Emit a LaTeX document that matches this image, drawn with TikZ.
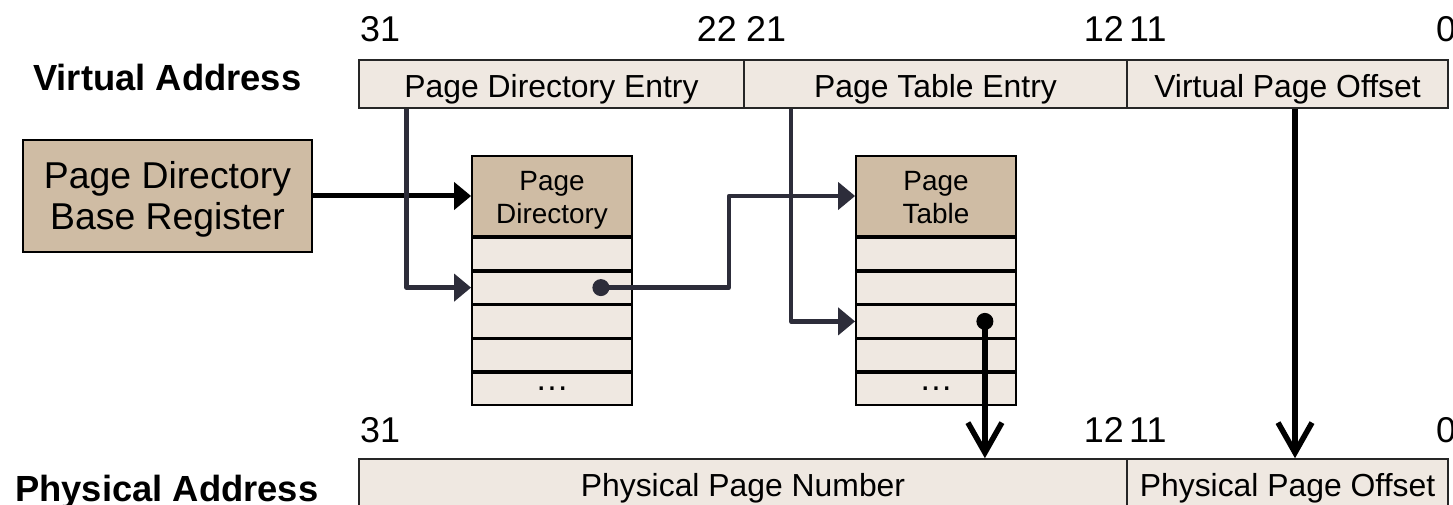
\documentclass[tikz,border=0pt]{standalone}
\usepackage{fontspec}
\setmainfont{Liberation Sans}
\usetikzlibrary{arrows.meta,calc}
\definecolor{fieldfill}{RGB}{239,232,225}
\definecolor{headfill}{RGB}{207,188,164}
\definecolor{linkgray}{RGB}{45,45,58}
\tikzset{
  field/.style={draw=black!85, line width=1.6bp, fill=fieldfill, minimum height=48bp,
    inner sep=0pt, text height=27bp, text depth=0bp, font=\fontsize{32}{36}\selectfont},
  tablehead/.style={draw=black, line width=1.8bp, fill=headfill, minimum width=160bp,
    minimum height=80bp, inner sep=0pt, align=center, font=\fontsize{28}{33}\selectfont},
  tablerow/.style={draw=black, line width=1.8bp, fill=fieldfill, minimum width=160bp,
    minimum height=32bp, inner sep=0pt, font=\fontsize{34}{34}\selectfont},
  register/.style={draw=black, line width=1.8bp, fill=headfill, minimum width=289bp,
    minimum height=112bp, inner sep=0pt, align=center, font=\fontsize{37.5}{41.5}\selectfont},
  bitnum/.style={font=\fontsize{36}{36}\selectfont, inner sep=0pt},
  caption/.style={font=\bfseries\fontsize{36.5}{40}\selectfont, inner sep=0pt, anchor=base west},
  feed/.style={draw=black, line width=5bp, -{Triangle[length=17bp,width=27bp]}},
  link/.style={draw=linkgray, line width=4.5bp, line join=round, -{Triangle[length=17bp,width=27bp]}},
  fetch/.style={draw=black, line width=5.5bp, -{Straight Barb[length=30bp,width=34bp]}},
}
\begin{document}
\begin{tikzpicture}[x=1bp, y=-1bp]
\useasboundingbox (0,0) rectangle (1453,505);
\clip (0,0) rectangle (1453,505);

% virtual address fields
\node[field, minimum width=385bp] (pde) at (551.5,84) {Page Directory Entry};
\node[field, minimum width=383bp] (pte) at (935.5,84) {Page Table Entry};
\node[field, minimum width=321bp] (vpo) at (1287.5,84) {Virtual Page Offset};

% physical address fields
\node[field, minimum width=768bp] (ppn) at (743,483) {Physical Page Number};
\node[field, minimum width=321bp] (ppo) at (1287.5,483) {Physical Page Offset};

% captions
\node[caption] (va) at (33,91) {Virtual Address};
\node[caption] (pa) at (15,501) {Physical Address};

% bit positions
\node[bitnum, anchor=base west] (v31) at (360,42) {31};
\node[bitnum, anchor=base east] (v22) at (737,42) {22};
\node[bitnum, anchor=base west] (v21) at (746,42) {21};
\node[bitnum, anchor=base east] (v12) at (1124,42) {12};
\node[bitnum, anchor=base west] (v11) at (1129,42) {11};
\node[bitnum, anchor=base west] (v0) at (1436,42) {0};
\node[bitnum, anchor=base west] (p31) at (360,442) {31};
\node[bitnum, anchor=base east] (p12) at (1124,442) {12};
\node[bitnum, anchor=base west] (p11) at (1129,442) {11};
\node[bitnum, anchor=base west] (p0) at (1436,442) {0};

% base register
\node[register] (pdbr) at (167.5,196) {\rule{0pt}{34.4bp}Page Directory\\Base Register};

% page directory
\node[tablehead] (pdh) at (552,196) {\rule{0pt}{27bp}Page\\Directory};
\node[tablerow, anchor=north] (pd1) at (pdh.south) {};
\node[tablerow, anchor=north] (pd2) at (pd1.south) {};
\node[tablerow, anchor=north] (pd3) at (pd2.south) {};
\node[tablerow, anchor=north] (pd4) at (pd3.south) {};
\node[tablerow, anchor=north] (pd5) at (pd4.south) {…};

% page table
\node[tablehead] (pth) at (936,196) {\rule{0pt}{27bp}Page\\Table\vphantom{y}};
\node[tablerow, anchor=north] (pt1) at (pth.south) {};
\node[tablerow, anchor=north] (pt2) at (pt1.south) {};
\node[tablerow, anchor=north] (pt3) at (pt2.south) {};
\node[tablerow, anchor=north] (pt4) at (pt3.south) {};
\node[tablerow, anchor=north] (pt5) at (pt4.south) {…};

% connectors
\draw[feed] (pdbr.east) -- (pdh.west);
\draw[link] ([xshift=48.5bp]pde.south west) |- (pd2.west);
\coordinate (pdptr) at ([xshift=-32bp]pd2.east);
\draw[link] (pdptr) -- ([xshift=96bp]pd2.east) |- (pth.west);
\draw[link] ([xshift=48bp]pte.south west) |- (pt3.west);
\coordinate (ptptr) at ([xshift=-32bp]pt3.east);
\draw[fetch] (ptptr) -- (ptptr |- ppn.north);
\draw[fetch] ([xshift=7.5bp]vpo.south) -- ([xshift=7.5bp]vpo.south |- ppo.north);
\fill[linkgray] (pdptr) circle[radius=8.5bp];
\fill[black] (ptptr) circle[radius=8.5bp];
\end{tikzpicture}
\end{document}
